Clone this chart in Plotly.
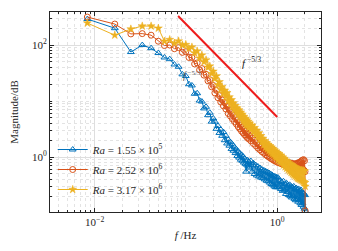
import plotly.graph_objects as go

# ---------------- data ----------------
DF = 0.0083  # frequency resolution (Hz)
K = list(range(1, 61)) + list(range(62, 121, 2)) + list(range(123, 244, 3)) + [244]
freq = [DF * k for k in K]

mag_ra1 = [  # Ra = 1.55e5 (blue, triangles)
    291, 200, 75, 100, 88, 72, 60, 56, 45, 41,
    30, 28, 20, 19, 13.5, 13.8, 10.2, 9.8, 7.4, 7.9,
    5.6, 6.2, 4.3, 4.9, 4.3, 3.2, 3.6, 2.7, 3.1, 2.4,
    2.8, 2.0, 2.4, 1.75, 2.05, 1.6, 1.85, 1.4, 1.68, 1.3,
    1.5, 1.18, 1.38, 1.05, 1.25, 0.98, 1.16, 0.9, 1.1, 0.86,
    1.02, 0.8, 0.95, 0.76, 0.55, 0.73, 0.88, 0.68, 0.82, 0.65,
    0.85, 0.55, 0.78, 0.5, 0.72, 0.47, 0.68, 0.45, 0.64, 0.43,
    0.6, 0.42, 0.58, 0.4, 0.56, 0.38, 0.54, 0.37, 0.52, 0.35,
    0.5, 0.33, 0.48, 0.32, 0.46, 0.3, 0.45, 0.29, 0.44, 0.29,
    0.43, 0.29, 0.38, 0.27, 0.36, 0.25, 0.37, 0.26, 0.33, 0.22,
    0.34, 0.24, 0.31, 0.21, 0.32, 0.2, 0.3, 0.19, 0.29, 0.2,
    0.3, 0.18, 0.27, 0.17, 0.28, 0.18, 0.26, 0.16, 0.27, 0.17,
    0.25, 0.15, 0.26, 0.14, 0.24, 0.15, 0.23, 0.13, 0.22, 0.12,
    0.21, 0.11,
]

mag_ra2 = [  # Ra = 2.52e6 (red, circles)
    316, 237, 158, 160, 150, 117, 98, 100, 86, 90,
    74, 76, 60, 60, 46, 48, 36, 38, 29, 30,
    23, 24, 18, 19, 14, 15.5, 11.5, 12.5, 9.6, 10.5,
    8.2, 9.4, 7.2, 8.0, 6.0, 7.0, 5.4, 6.2, 4.8, 5.5,
    4.3, 5.0, 3.9, 4.6, 3.5, 4.1, 3.2, 3.7, 2.9, 3.4,
    2.7, 3.1, 2.5, 2.9, 2.35, 2.7, 2.2, 2.55, 2.1, 2.4,
    1.95, 2.2, 1.75, 2.0, 1.6, 1.8, 1.45, 1.65, 1.35, 1.5,
    1.25, 1.42, 1.18, 1.35, 1.1, 1.3, 1.05, 1.22, 1.0, 1.15,
    0.95, 1.1, 0.92, 1.07, 0.88, 1.04, 0.86, 1.0, 0.83, 0.97,
    0.8, 0.95, 0.78, 0.92, 0.76, 0.88, 0.74, 0.85, 0.72, 0.83,
    0.7, 0.8, 0.68, 0.79, 0.67, 0.78, 0.66, 0.77, 0.64, 0.76,
    0.63, 0.75, 0.62, 0.76, 0.62, 0.77, 0.63, 0.78, 0.63, 0.8,
    0.64, 0.82, 0.63, 0.85, 0.62, 0.88, 0.6, 0.9, 0.58, 0.86,
    0.55, 0.11,
]

mag_ra3 = [  # Ra = 3.17e6 (yellow, stars)
    247, 150, 193, 218, 218, 200, 117, 125, 108, 118,
    100, 102, 86, 92, 72, 78, 58, 66, 50, 54,
    40, 42, 31, 34, 25, 28, 19.5, 22, 16, 18,
    13.8, 15.5, 12, 14, 10.2, 11.8, 9.0, 10.5, 7.9, 9.2,
    7.0, 8.3, 6.4, 7.5, 5.8, 6.9, 5.3, 6.3, 4.9, 5.8,
    4.5, 5.3, 4.1, 4.9, 3.8, 4.6, 3.6, 4.3, 3.35, 4.0,
    3.1, 3.7, 2.85, 3.35, 2.55, 3.0, 2.3, 2.7, 2.05, 2.4,
    1.85, 2.15, 1.65, 1.95, 1.5, 1.8, 1.4, 1.68, 1.3, 1.58,
    1.22, 1.5, 1.15, 1.42, 1.1, 1.34, 1.03, 1.27, 0.98, 1.2,
    0.88, 1.15, 0.83, 1.08, 0.78, 1.0, 0.72, 0.94, 0.67, 0.88,
    0.63, 0.83, 0.59, 0.78, 0.56, 0.74, 0.53, 0.71, 0.5, 0.69,
    0.48, 0.67, 0.46, 0.65, 0.44, 0.62, 0.42, 0.6, 0.41, 0.59,
    0.4, 0.58, 0.39, 0.58, 0.38, 0.57, 0.37, 0.57, 0.36, 0.56,
    0.35, 0.3,
]

ref_f = [0.082, 1.0]      # f^-5/3 reference line
ref_mag = [330, 5.2]

series_names = [
    "<i>Ra</i> = 1.55 × 10<sup>5</sup>",
    "<i>Ra</i> = 2.52 × 10<sup>6</sup>",
    "<i>Ra</i> = 3.17 × 10<sup>6</sup>",
]
x_tickvals = [0.01, 1]
x_ticktext = ["10<sup>−2</sup>", "10<sup>0</sup>"]
y_tickvals = [1, 100]
y_ticktext = ["10<sup>0</sup>", "10<sup>2</sup>"]

# ---------------- figure ----------------
FONT = "Liberation Serif, Times New Roman, serif"
BLUE, RED, YEL = "#0072BD", "#D95319", "#EDB120"

fig = go.Figure()
fig.add_trace(go.Scatter(
    x=freq, y=mag_ra1, mode="lines+markers", name=series_names[0],
    legendgroup="a",
    line=dict(color=BLUE, width=1),
    marker=dict(symbol="triangle-up-open", size=6, color=BLUE, line=dict(width=1, color=BLUE)),
))
fig.add_trace(go.Scatter(
    x=freq, y=mag_ra2, mode="lines+markers", name=series_names[1],
    legendgroup="b",
    line=dict(color=RED, width=1),
    marker=dict(symbol="circle-open", size=6, color=RED, line=dict(width=1, color=RED)),
))
fig.add_trace(go.Scatter(
    x=freq, y=mag_ra3, mode="lines+markers", name=series_names[2],
    legendgroup="c",
    line=dict(color=YEL, width=1),
    marker=dict(symbol="star", size=6, color=YEL, line=dict(width=0.5, color=YEL)),
))
fig.add_trace(go.Scatter(
    x=ref_f, y=ref_mag, mode="lines", showlegend=False,
    line=dict(color="#EE1C1C", width=2),
))

fig.add_annotation(x=-0.28, y=1.70, xref="x", yref="y",
                   text="<i>f</i><sup> −5/3</sup>", showarrow=False,
                   font=dict(family=FONT, size=11, color="#222"))
fig.add_annotation(x=-0.93, y=1.47, xref="x", yref="y",
                   text="<i>f</i><sup> −5/3</sup>", showarrow=False,
                   font=dict(family=FONT, size=10, color="#555"))

axis_common = dict(
    type="log", showline=True, linecolor="#262626", linewidth=1, mirror="ticks",
    ticks="inside", ticklen=4, tickcolor="#262626", automargin=False,
    showgrid=True, gridcolor="#DEDEDE", gridwidth=1, zeroline=False,
    tickfont=dict(family=FONT, size=11, color="#262626"),
    minor=dict(ticks="inside", ticklen=2, tickcolor="#262626",
               showgrid=True, gridcolor="#E3E3E3", griddash="dot", dtick="D1"),
)

fig.update_xaxes(**axis_common, range=[-2.49, 0.48],
                 tickmode="array", tickvals=x_tickvals, ticktext=x_ticktext,
                 title=dict(text="<i>f</i> /Hz", font=dict(family=FONT, size=11, color="#262626"),
                            standoff=4))
fig.update_yaxes(**axis_common, range=[-0.98, 2.59],
                 tickmode="array", tickvals=y_tickvals, ticktext=y_ticktext,
                 title=dict(text="Magnitude/dB", font=dict(family=FONT, size=11, color="#262626"),
                            standoff=11))

fig.update_layout(
    width=338, height=251,
    margin=dict(l=50, r=17, t=12, b=39),
    paper_bgcolor="white", plot_bgcolor="white",
    legend=dict(x=0.01, y=0.385, xanchor="left", yanchor="top",
                bgcolor="rgba(0,0,0,0)", borderwidth=0,
                font=dict(family=FONT, size=11, color="#262626"),
                traceorder="grouped", tracegroupgap=1, itemwidth=30),
    showlegend=True,
)

fig.write_html("out.html", config={"displayModeBar": False},
               post_script="document.body.style.margin='0';document.body.style.padding='0';")
